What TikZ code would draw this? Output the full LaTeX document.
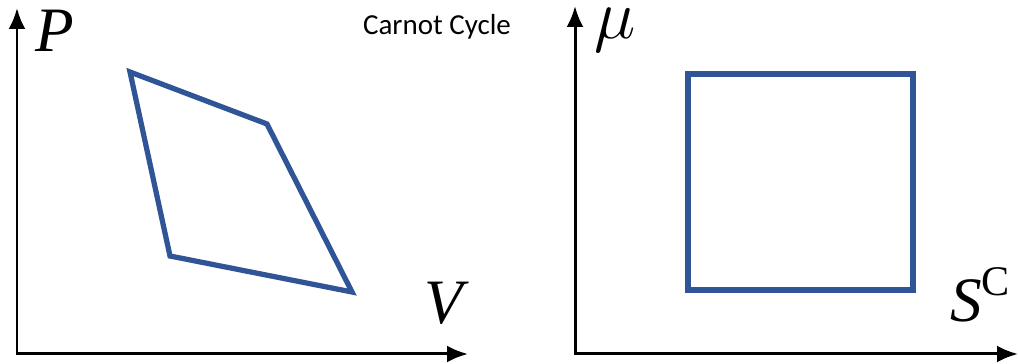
\documentclass[tikz,border=0pt]{standalone}
\usepackage{amsmath, amssymb}
\usepackage{graphicx}
\usepackage{fontspec}
\newfontfamily\carlito{Carlito}
\newfontfamily\timesfont{Liberation Serif}
\usetikzlibrary{positioning,arrows.meta,calc}
\definecolor{cycleblue}{RGB}{47,85,151}
\tikzset{
  axisarrow/.style={-{Latex[length=4.2mm,width=3.4mm]}, line width=0.6mm, black},
  cycleline/.style={draw=cycleblue, line width=1.05mm, line join=miter},
  axislabel/.style={font=\timesfont\itshape\fontsize{36}{40}\selectfont, inner sep=0pt},
  titlelabel/.style={font=\carlito\fontsize{16.5}{19}\selectfont, inner sep=0pt}
}
\begin{document}
\begin{tikzpicture}[x=0.02cm, y=-0.02cm]
  \useasboundingbox (0,0) rectangle (1018,364);
  % left plot: P-V
  \coordinate (lo) at (17,354);
  \coordinate (ltop) at (17,8);
  \coordinate (lright) at (468,354);
  \draw[axisarrow] (lo) -- (ltop);
  \draw[axisarrow] ($(lo)+(-1.5,0)$) -- (lright);
  \node[axislabel] (P) at (55,31) {P};
  \node[axislabel] (V) at (444,303) {V};
  \coordinate (a) at (130,72);
  \coordinate (b) at (267,124);
  \coordinate (c) at (352,292);
  \coordinate (d) at (170,256);
  \draw[cycleline] (a) -- (b) -- (c) -- (d) -- cycle;
  \node[titlelabel] (title) at (437,27) {Carnot Cycle};
  % right plot: mu-S^C
  \coordinate (ro) at (575,354);
  \coordinate (rtop) at (575,6);
  \coordinate (rright) at (1018,354);
  \draw[axisarrow] (ro) -- (rtop);
  \draw[axisarrow] ($(ro)+(-1.5,0)$) -- (rright);
  \node[axislabel, anchor=base] (mu) at (615,39) {\scalebox{1.6}{$\mu$}};
  \node[axislabel, anchor=base west] (S) at (950,322) {S\raisebox{0.42em}{\upshape\fontsize{24}{26}\selectfont C}};
  \coordinate (sq1) at (688,74);
  \coordinate (sq2) at (913,290);
  \draw[cycleline] (sq1) rectangle (sq2);
\end{tikzpicture}
\end{document}
